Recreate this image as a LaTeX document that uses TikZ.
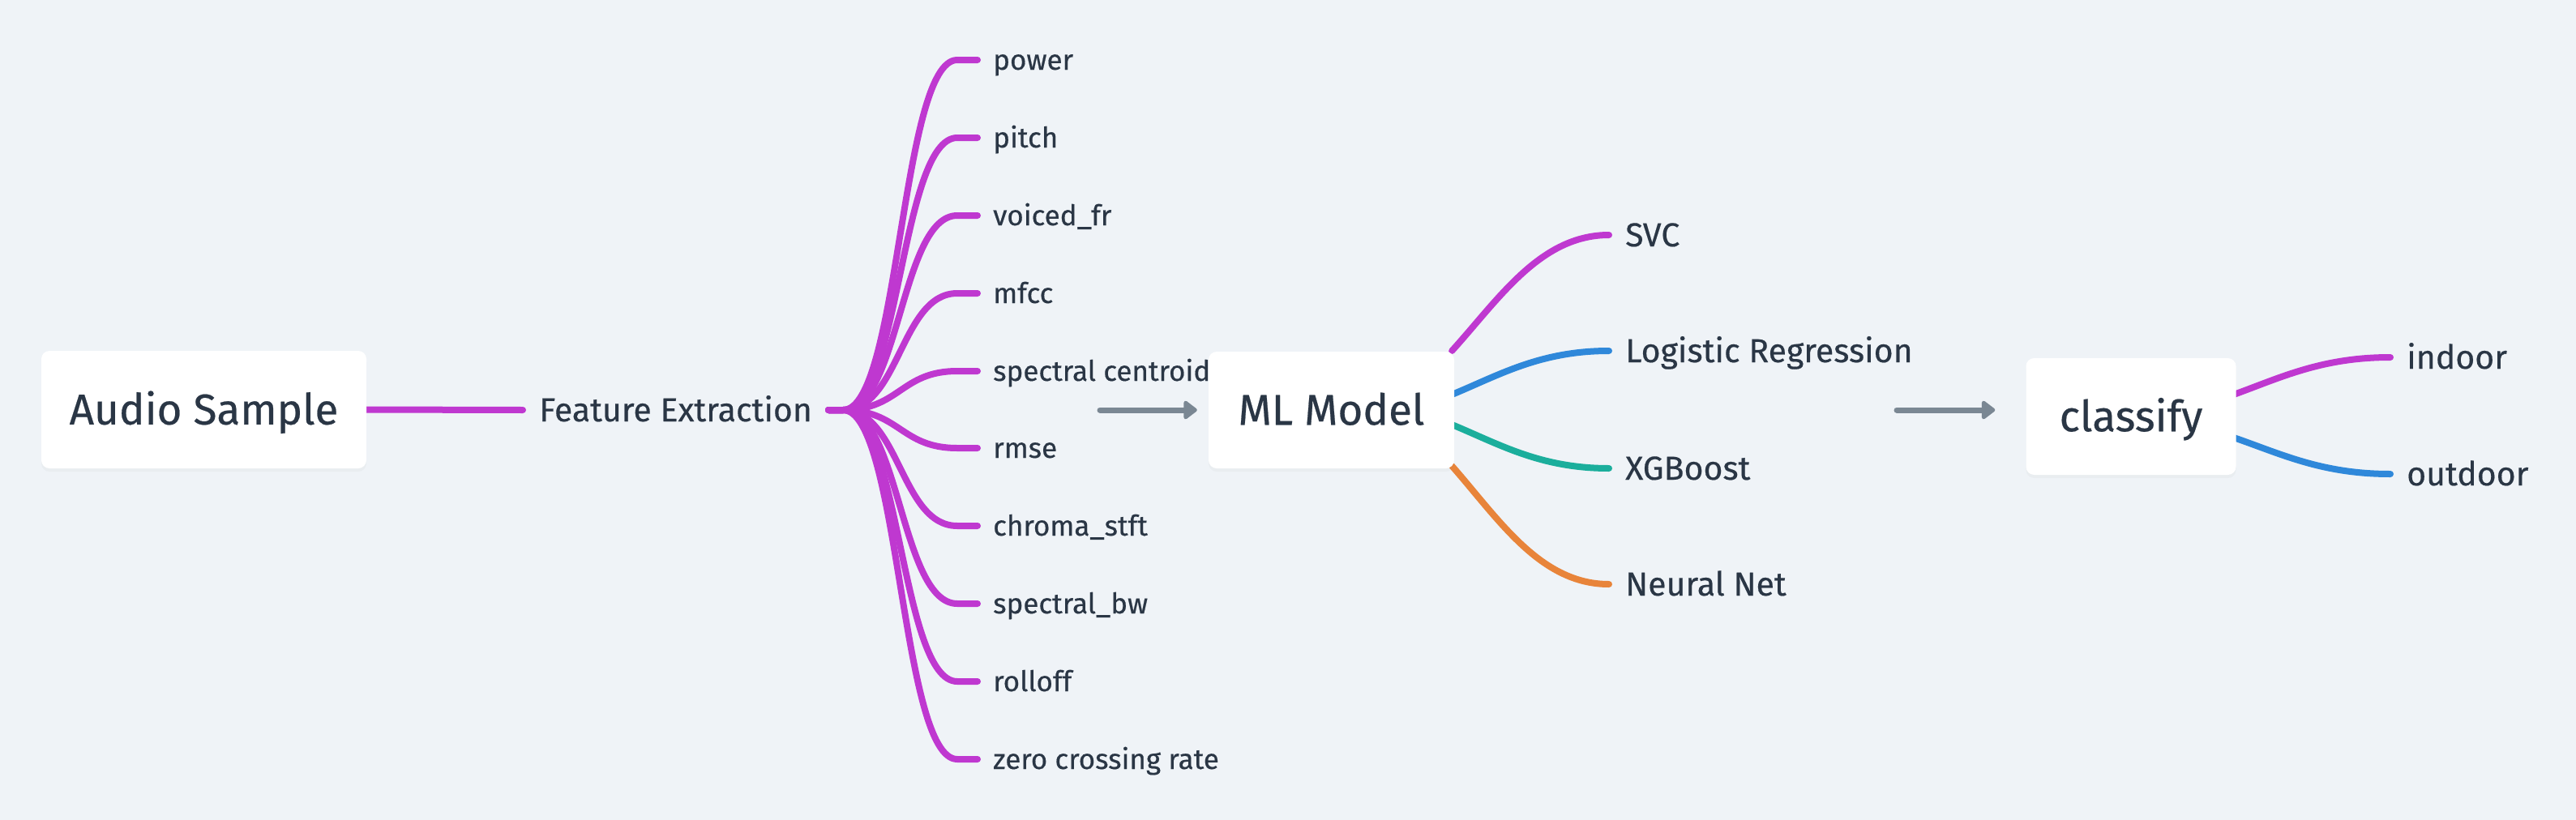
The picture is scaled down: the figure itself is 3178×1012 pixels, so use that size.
\documentclass[tikz,border=0pt]{standalone}
\usepackage{fontspec}
\setmainfont{Fira Sans}[FakeBold=0.4]
\usetikzlibrary{arrows.meta,shadows}
\definecolor{bgc}{HTML}{EFF3F7}
\definecolor{txt}{HTML}{2A3645}
\definecolor{mmpurple}{HTML}{BF38D0}
\definecolor{mmblue}{HTML}{2F88DA}
\definecolor{mmteal}{HTML}{1BAE9C}
\definecolor{mmorange}{HTML}{E8843A}
\definecolor{arrowgray}{HTML}{7A8793}
\pgfdeclarelayer{bglayer}
\pgfdeclarelayer{edgelayer}
\pgfsetlayers{bglayer,edgelayer,main}
\begin{document}
\begin{tikzpicture}[x=1pt,y=-1pt,
  box/.style={fill=white, rounded corners=10pt, text=txt,
    font=\fontsize{53}{60}\selectfont, text height=36.5pt, text depth=0pt,
    drop shadow={shadow xshift=0pt, shadow yshift=-4pt, opacity=0.05}},
  lbl/.style={anchor=west, text=txt, font=\fontsize{41}{48}\selectfont,
    inner xsep=20pt, inner ysep=0pt, text height=28pt, text depth=0pt},
  leaf/.style={anchor=west, text=txt, font=\fontsize{35}{42}\selectfont,
    inner xsep=19pt, inner ysep=0pt, text height=24pt, text depth=0pt},
  conn/.style={line width=8pt, line cap=round},
  flow/.style={line width=7pt, draw=arrowgray, line cap=round,
    -{Triangle[length=18pt,width=26pt,round]}}
]
\begin{pgfonlayer}{bglayer}
\fill[bgc] (0,0) rectangle (3178,1012);
\end{pgfonlayer}
\useasboundingbox (0,0) rectangle (3178,1012);

% main nodes
\node[box, minimum width=401pt, minimum height=145pt] (audio) at (251.5,505.5) {Audio Sample};
\node[lbl] (fe) at (645,506) {Feature Extraction};
\node[box, minimum width=303pt, minimum height=144pt] (ml) at (1642.5,506) {ML Model};
\node[box, minimum width=259pt, minimum height=144pt] (cl) at (2629,514) {classify};

% feature leaves
\node[leaf] (l1) at (1206,74) {power};
\node[leaf] (l2) at (1206,170) {pitch};
\node[leaf] (l3) at (1206,266) {voiced\_fr};
\node[leaf] (l4) at (1206,362) {mfcc};
\node[leaf] (l5) at (1206,458) {spectral centroid};
\node[leaf] (l6) at (1206,553) {rmse};
\node[leaf] (l7) at (1206,649) {chroma\_stft};
\node[leaf] (l8) at (1206,745) {spectral\_bw};
\node[leaf] (l9) at (1206,841) {rolloff};
\node[leaf] (l10) at (1206,937) {zero crossing rate};

% model leaves
\node[lbl] (svc) at (1985,290) {SVC};
\node[lbl] (lr) at (1985,433) {Logistic Regression};
\node[lbl] (xgb) at (1985,578) {XGBoost};
\node[lbl] (nn) at (1985,721) {Neural Net};

% class leaves
\node[lbl] (ind) at (2949,441) {indoor};
\node[lbl] (outd) at (2949,585) {outdoor};

\coordinate (fj) at (1040,506);
\coordinate (a1) at (1357,506);
\coordinate (a2) at (2340,506);

\begin{pgfonlayer}{edgelayer}
\draw[conn, mmpurple] (audio.east) -- (fe.west);
\foreach \l in {l1,l2,l3,l4,l5,l6,l7,l8,l9,l10}{
  \draw[conn, mmpurple] (fe.east) -- (fj) .. controls +(70,0) and +(-70,0) .. ([xshift=-25pt]\l.west) -- (\l.west);
}
\draw[conn, mmpurple] ([xshift=-3pt,yshift=73pt]ml.east) .. controls +(58,-64) and +(-85,0) .. (svc.west);
\draw[conn, mmblue] ([xshift=-3pt,yshift=19pt]ml.east) .. controls +(58,-24) and +(-85,0) .. (lr.west);
\draw[conn, mmteal] ([xshift=-3pt,yshift=-18pt]ml.east) .. controls +(58,24) and +(-85,0) .. (xgb.west);
\draw[conn, mmorange] ([xshift=-3pt,yshift=-69pt]ml.east) .. controls +(58,66) and +(-85,0) .. (nn.west);
\draw[conn, mmpurple] ([xshift=-3pt,yshift=27pt]cl.east) .. controls +(58,-21) and +(-85,0) .. (ind.west);
\draw[conn, mmblue] ([xshift=-3pt,yshift=-26pt]cl.east) .. controls +(58,20) and +(-85,0) .. (outd.west);
\end{pgfonlayer}

\draw[flow] (a1) -- ([xshift=-14pt]ml.west);
\draw[flow] (a2) -- ([xshift=-38pt,yshift=8pt]cl.west);
\end{tikzpicture}
\end{document}
